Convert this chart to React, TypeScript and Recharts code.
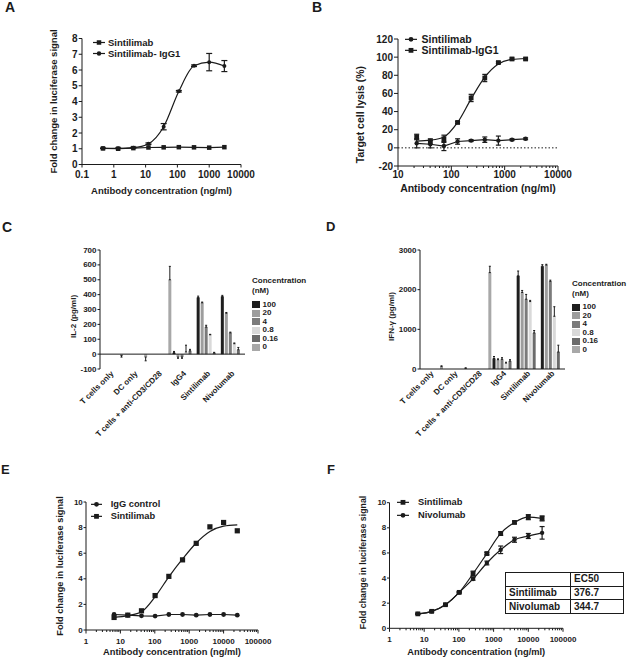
import React from 'react';
import {
  ComposedChart,
  BarChart,
  Bar,
  Line,
  XAxis,
  YAxis,
  ErrorBar,
  Legend,
  ReferenceLine,
  Label,
} from 'recharts';

const FONT = '"Liberation Sans", Arial, Helvetica, sans-serif';
const INK = '#1b1b1b';

// A: reporter assay, Sintilimab vs Sintilimab-IgG1
const aConc = [0.457, 1.37, 4.12, 12.3, 37, 111, 333, 1000, 3000];
const aSintilimab = [1.02, 1.0, 1.04, 1.08, 1.09, 1.1, 1.09, 1.07, 1.1];
const aIgG1 = [1.03, 1.03, 1.07, 1.32, 2.4, 4.65, 6.27, 6.5, 6.25];
const aIgG1Err = [0.02, 0.02, 0.03, 0.05, 0.2, 0.05, 0.05, 0.55, 0.35];
const aXTicks = [0.1, 1, 10, 100, 1000, 10000];
const aYTicks = [0, 1, 2, 3, 4, 5, 6, 7, 8];

// B: target cell lysis
const bConc = [22.4, 40.4, 72.6, 131, 235, 424, 762, 1372, 2470];
const bSintilimab = [5, 4, 2, 7, 8, 9, 8, 9, 10];
const bSintilimabErr = [5, 4, 5, 3, 1, 3, 5, 1, 1];
const bIgG1 = [12, 7, 10, 28, 55, 77, 94, 98, 98];
const bIgG1Err = [3, 3, 4, 1, 4, 4, 1, 1, 1];
const bIgG1Curve = [7.5, 8.5, 12, 28, 54, 78, 92.5, 97.5, 98.5];
const bXMajor = [10, 100, 1000, 10000];
const bYTicks = [-20, 0, 20, 40, 60, 80, 100, 120];

// C / D: cytokines
const categories = ['T cells only', 'DC only', 'T cells + anti-CD3/CD28', 'IgG4', 'Sintilimab', 'Nivolumab'];
const concLabels = ['100', '20', '4', '0.8', '0.16', '0'];
const concColors = ['#1e1e1e', '#9d9d9d', '#7b7b7b', '#d9d9d9', '#6b6b6b', '#a8a8a8'];

const il2At100 = [null, null, null, 10, 380, 387];
const il2At20 = [null, null, null, -20, 345, 275];
const il2At4 = [null, null, null, -20, 182, 143];
const il2At08 = [null, null, null, 15, 130, 70];
const il2At016 = [null, null, null, 22, 8, 30];
const il2At0 = [-10, -20, 500, null, null, null];
const il2Err100 = [null, null, null, 8, 10, 8];
const il2Err20 = [null, null, null, 8, 5, 5];
const il2Err4 = [null, null, null, 8, 12, 5];
const il2Err08 = [null, null, null, 45, 3, 5];
const il2Err016 = [null, null, null, 10, 4, 15];
const il2Err0 = [10, 25, 90, null, null, null];
const il2Ticks = [-100, 0, 100, 200, 300, 400, 500, 600, 700];

const ifnAt100 = [null, null, null, 265, 2350, 2590];
const ifnAt20 = [null, null, null, 235, 1930, 2620];
const ifnAt4 = [null, null, null, 245, 1760, 2210];
const ifnAt08 = [null, null, null, 150, 1700, 1330];
const ifnAt016 = [null, null, null, 200, 910, 430];
const ifnAt0 = [60, 15, 2430, null, null, null];
const ifnErr100 = [null, null, null, 50, 120, 40];
const ifnErr20 = [null, null, null, 20, 50, 20];
const ifnErr4 = [null, null, null, 40, 120, 30];
const ifnErr08 = [null, null, null, 20, 30, 240];
const ifnErr016 = [null, null, null, 35, 60, 170];
const ifnErr0 = [20, 15, 160, null, null, null];
const ifnTicks = [0, 1000, 2000, 3000];

// E: IgG control vs Sintilimab
const efConc = [6.55, 16.4, 41, 102, 256, 640, 1600, 4000, 10000, 25000];
const eIgG = [1.21, 1.16, 1.11, 1.09, 1.21, 1.21, 1.16, 1.21, 1.21, 1.16];
const eSintilimab = [0.98, 1.16, 1.5, 2.69, 4.19, 5.48, 6.77, 8.06, 8.4, 7.75];
const eSintilimabCurve = [0.98, 1.12, 1.42, 2.6, 4.15, 5.55, 6.8, 7.7, 8.12, 8.22];

// F: Sintilimab vs Nivolumab
const fSintilimab = [1.15, 1.35, 1.88, 2.86, 4.35, 5.95, 7.55, 8.43, 8.85, 8.75];
const fSintilimabErr = [0.05, 0.05, 0.05, 0.05, 0.2, 0.1, 0.15, 0.1, 0.2, 0.2];
const fNivolumab = [1.15, 1.35, 1.88, 2.86, 3.93, 5.2, 6.25, 7.05, 7.35, 7.6];
const fNivolumabErr = [0.05, 0.05, 0.05, 0.05, 0.1, 0.15, 0.3, 0.2, 0.2, 0.5];
const efXMajor = [1, 10, 100, 1000, 10000, 100000];
const efYTicks = [0, 2, 4, 6, 8, 10];
const ec50Names = ['Sintilimab', 'Nivolumab'];
const ec50Values = ['376.7', '344.7'];

const toPoints = (xs: number[], ys: number[], es?: number[]) =>
  xs.map((x, i) => ({ x, y: ys[i], e: es ? es[i] : 0 }));

const withMinor = (majors: number[]) => {
  const out: number[] = [];
  majors.forEach((m, i) => {
    out.push(m);
    if (i < majors.length - 1) for (let k = 2; k <= 9; k++) out.push(+(k * m).toPrecision(6));
  });
  return out;
};

const isDecade = (v: number) => Math.abs(Math.log10(v) - Math.round(Math.log10(v))) < 1e-6;

function XLogTick(props: any) {
  const { x, y, payload, fs, len, minorLen, labelY } = props;
  const v = payload.value;
  const major = isDecade(v);
  if (!major && !minorLen) return null;
  return (
    <g>
      <line x1={x} y1={y} x2={x} y2={y + (major ? len : minorLen)} stroke={INK} />
      {major && (
        <text x={x} y={y + labelY} textAnchor="middle" dominantBaseline="central" fontSize={fs} fontWeight="bold" fontFamily={FONT} fill={INK}>
          {String(v)}
        </text>
      )}
    </g>
  );
}

function YTick(props: any) {
  const { x, y, payload, fs, len, gap } = props;
  return (
    <g>
      <line x1={x - len} y1={y} x2={x} y2={y} stroke={INK} />
      <text x={x - gap} y={y} textAnchor="end" dominantBaseline="central" fontSize={fs} fontWeight="bold" fontFamily={FONT} fill={INK}>
        {payload.value}
      </text>
    </g>
  );
}

function CatTick(props: any) {
  const { x, y, payload } = props;
  const ax = x + 2;
  const ay = y + 5;
  return (
    <text x={ax} y={ay} transform={`rotate(-45 ${ax} ${ay})`} textAnchor="end" fontSize={8} fontWeight="bold" fontFamily={FONT} fill={INK}>
      {payload.value}
    </text>
  );
}

const xTitle = (text: string, dy: number, fs: number) => (p: any) => {
  const vb = p.viewBox;
  return (
    <text x={vb.x + vb.width / 2} y={vb.y + dy} textAnchor="middle" dominantBaseline="central" fontSize={fs} fontWeight="bold" fontFamily={FONT} fill={INK}>
      {text}
    </text>
  );
};

const yTitle = (text: string, dx: number, dy: number, fs: number) => (p: any) => {
  const vb = p.viewBox;
  const cx = vb.x + dx;
  const cy = vb.y + vb.height / 2 + dy;
  return (
    <text x={cx} y={cy} transform={`rotate(-90 ${cx} ${cy})`} textAnchor="middle" dominantBaseline="central" fontSize={fs} fontWeight="bold" fontFamily={FONT} fill={INK}>
      {text}
    </text>
  );
};

const squareDot = (s: number) => (p: any) =>
  p.cx == null || p.cy == null ? <g key={p.key} /> : (
    <rect key={p.key} x={p.cx - s / 2} y={p.cy - s / 2} width={s} height={s} fill={INK} />
  );

const circleDot = (r: number) => (p: any) =>
  p.cx == null || p.cy == null ? <g key={p.key} /> : <circle key={p.key} cx={p.cx} cy={p.cy} r={r} fill={INK} />;

type LegendItem = { name: string; shape: 'square' | 'circle' };

function SeriesLegend({ items, fs, row, lineW, gap, size }: { items: LegendItem[]; fs: number; row: number; lineW: number; gap: number; size: number }) {
  return (
    <div style={{ fontFamily: FONT, fontWeight: 'bold', fontSize: fs, color: INK }}>
      {items.map((it) => (
        <div key={it.name} style={{ display: 'flex', alignItems: 'center', height: row, whiteSpace: 'nowrap' }}>
          <svg width={lineW} height={row} style={{ display: 'block' }}>
            <line x1={0} x2={lineW} y1={row / 2} y2={row / 2} stroke={INK} strokeWidth={1.2} />
            {it.shape === 'square' ? (
              <rect x={lineW / 2 - size / 2} y={row / 2 - size / 2} width={size} height={size} fill={INK} />
            ) : (
              <circle cx={lineW / 2} cy={row / 2} r={size / 2} fill={INK} />
            )}
          </svg>
          <span style={{ marginLeft: gap, lineHeight: `${row}px` }}>{it.name}</span>
        </div>
      ))}
    </div>
  );
}

function ConcLegend({ itemsGap }: { itemsGap: number }) {
  return (
    <div style={{ fontFamily: FONT, fontWeight: 'bold', fontSize: 8, color: INK, lineHeight: '10px', whiteSpace: 'nowrap' }}>
      <div>Concentration</div>
      <div>(nM)</div>
      <div style={{ marginTop: itemsGap }}>
        {concLabels.map((c, i) => (
          <div key={c} style={{ display: 'flex', alignItems: 'center', height: 8.5 }}>
            <span style={{ display: 'inline-block', width: 7.5, height: 7, background: concColors[i] }} />
            <span style={{ marginLeft: 3, lineHeight: '8.5px' }}>{c}</span>
          </div>
        ))}
      </div>
    </div>
  );
}

const buildBars = (series: (number | null)[][], errs: (number | null)[][]) =>
  categories.map((name, i) => {
    const row: any = { name };
    series.forEach((s, k) => {
      const v = s[i];
      const e = errs[k][i];
      row[`c${k}`] = v;
      if (v != null && e != null) row[`e${k}`] = v < 0 ? [e, 0] : [0, e];
    });
    return row;
  });

const il2Data = buildBars(
  [il2At100, il2At20, il2At4, il2At08, il2At016, il2At0],
  [il2Err100, il2Err20, il2Err4, il2Err08, il2Err016, il2Err0],
);
const ifnData = buildBars(
  [ifnAt100, ifnAt20, ifnAt4, ifnAt08, ifnAt016, ifnAt0],
  [ifnErr100, ifnErr20, ifnErr4, ifnErr08, ifnErr016, ifnErr0],
);

const letter = (t: string, left: number, top: number, fs: number) => (
  <div style={{ position: 'absolute', left, top, fontFamily: FONT, fontWeight: 'bold', fontSize: fs, lineHeight: `${fs}px`, color: INK }}>{t}</div>
);

const Box = ({ left, top, children }: { left: number; top: number; children: React.ReactNode }) => (
  <div style={{ position: 'absolute', left, top }}>{children}</div>
);

function PanelA() {
  return (
    <ComposedChart width={310} height={197} margin={{ top: 20.5, right: 69, bottom: 0, left: 0 }}>
      <XAxis type="number" dataKey="x" scale="log" domain={[0.1, 10000]} ticks={aXTicks} interval={0} allowDataOverflow
        height={50.5} tickSize={0} tickMargin={0} axisLine={{ stroke: INK }}
        tick={<XLogTick fs={10} len={3} minorLen={0} labelY={9.5} />}
        label={<Label content={xTitle('Antibody concentration (ng/ml)', 25.5, 9.5)} />} />
      <YAxis type="number" domain={[0, 8]} ticks={aYTicks} interval={0} allowDataOverflow width={82} tickSize={0} tickMargin={0}
        axisLine={{ stroke: INK }} tick={<YTick fs={10} len={3.3} gap={4.5} />}
        label={<Label content={yTitle('Fold change in luciferase signal', 53, 0, 9.5)} />} />
      <Line data={toPoints(aConc, aSintilimab)} dataKey="y" name="Sintilimab" type="linear" stroke={INK} strokeWidth={1.2}
        dot={squareDot(4.5)} activeDot={false} isAnimationActive={false} />
      <Line data={toPoints(aConc, aIgG1, aIgG1Err)} dataKey="y" name="Sintilimab- IgG1" type="monotone" stroke={INK} strokeWidth={1.2}
        dot={circleDot(2)} activeDot={false} isAnimationActive={false}>
        <ErrorBar dataKey="e" direction="y" width={3} stroke={INK} strokeWidth={1.2} />
      </Line>
      <Legend layout="vertical" align="center" verticalAlign="middle" wrapperStyle={{ left: 93, top: 19 }}
        content={() => <SeriesLegend items={[{ name: 'Sintilimab', shape: 'square' }, { name: 'Sintilimab- IgG1', shape: 'circle' }]} fs={9.5} row={11} lineW={12} gap={3} size={4.5} />} />
    </ComposedChart>
  );
}

function PanelB() {
  return (
    <ComposedChart width={317} height={197} margin={{ top: 21, right: 69, bottom: 0, left: 0 }}>
      <XAxis type="number" dataKey="x" scale="log" domain={[10, 10000]} ticks={withMinor(bXMajor)} interval={0} allowDataOverflow
        height={49} tickSize={0} tickMargin={0} axisLine={{ stroke: INK }}
        tick={<XLogTick fs={10} len={4} minorLen={2} labelY={8.5} />}
        label={<Label content={xTitle('Antibody concentration (ng/ml)', 21.7, 10.5)} />} />
      <YAxis type="number" domain={[-20, 120]} ticks={bYTicks} interval={0} allowDataOverflow width={88} tickSize={0} tickMargin={0}
        axisLine={{ stroke: INK }} tick={<YTick fs={10} len={4} gap={5} />}
        label={<Label content={yTitle('Target cell lysis (%)', 50, 12, 10.5)} />} />
      <ReferenceLine y={0} stroke={INK} strokeDasharray="1.5 2" />
      <Line data={toPoints(bConc, bSintilimab, bSintilimabErr)} dataKey="y" name="Sintilimab" type="linear" stroke={INK} strokeWidth={1.2}
        dot={circleDot(2.2)} activeDot={false} isAnimationActive={false}>
        <ErrorBar dataKey="e" direction="y" width={2.5} stroke={INK} strokeWidth={1.2} />
      </Line>
      <Line data={toPoints(bConc, bIgG1Curve)} dataKey="y" name="curve" legendType="none" type="monotone" stroke={INK} strokeWidth={1.2}
        dot={false} activeDot={false} isAnimationActive={false} />
      <Line data={toPoints(bConc, bIgG1, bIgG1Err)} dataKey="y" name="Sintilimab-IgG1" type="monotone" stroke="none"
        dot={squareDot(4.8)} activeDot={false} isAnimationActive={false}>
        <ErrorBar dataKey="e" direction="y" width={2.5} stroke={INK} strokeWidth={1.2} />
      </Line>
      <Legend layout="vertical" align="center" verticalAlign="middle" wrapperStyle={{ left: 95, top: 16 }}
        content={() => <SeriesLegend items={[{ name: 'Sintilimab', shape: 'circle' }, { name: 'Sintilimab-IgG1', shape: 'square' }]} fs={10.5} row={10.7} lineW={12} gap={4.5} size={4.8} />} />
    </ComposedChart>
  );
}

function CytokineChart({ data, domain, ticks, title, titleDx, yw, zeroLine, legendLeft, legendTop, itemsGap }: any) {
  return (
    <BarChart width={310} height={215} data={data} margin={{ top: 20, right: 310 - yw - 145, bottom: 0, left: 0 }}
      barCategoryGap={0} barGap={1}>
      <XAxis dataKey="name" type="category" interval={0} height={76} tickSize={0} tickMargin={0}
        axisLine={zeroLine ? false : { stroke: INK }} tick={<CatTick />} />
      <YAxis type="number" domain={domain} ticks={ticks} interval={0} allowDataOverflow width={yw} tickSize={0} tickMargin={0}
        axisLine={{ stroke: INK }} tick={<YTick fs={8} len={2.5} gap={3.5} />}
        label={<Label content={yTitle(title, titleDx, 7, 8)} />} />
      {zeroLine && <ReferenceLine y={0} stroke={INK} />}
      {concLabels.map((c, k) => (
        <Bar key={c} dataKey={`c${k}`} name={c} fill={concColors[k]} isAnimationActive={false}>
          <ErrorBar dataKey={`e${k}`} direction="y" width={1} stroke={INK} strokeWidth={1} />
        </Bar>
      ))}
      <Legend layout="vertical" align="center" verticalAlign="middle" wrapperStyle={{ left: legendLeft, top: legendTop }}
        content={() => <ConcLegend itemsGap={itemsGap} />} />
    </BarChart>
  );
}

function PanelE() {
  return (
    <ComposedChart width={310} height={178} margin={{ top: 22, right: 52, bottom: 0, left: 0 }}>
      <XAxis type="number" dataKey="x" scale="log" domain={[1, 100000]} ticks={withMinor(efXMajor)} interval={0} allowDataOverflow
        height={28} tickSize={0} tickMargin={0} axisLine={{ stroke: INK }}
        tick={<XLogTick fs={8} len={3.5} minorLen={2} labelY={11.5} />}
        label={<Label content={xTitle('Antibody concentration (ng/ml)', 21.7, 9.3)} />} />
      <YAxis type="number" domain={[0, 10]} ticks={efYTicks} interval={0} allowDataOverflow width={86} tickSize={0} tickMargin={0}
        axisLine={{ stroke: INK }} tick={<YTick fs={8} len={2.5} gap={3.2} />}
        label={<Label content={yTitle('Fold change in luciferase signal', 60, 0, 9.2)} />} />
      <Line data={toPoints(efConc, eIgG)} dataKey="y" name="IgG control" type="linear" stroke={INK} strokeWidth={1.2}
        dot={circleDot(2.4)} activeDot={false} isAnimationActive={false} />
      <Line data={toPoints(efConc, eSintilimabCurve)} dataKey="y" name="curve" legendType="none" type="monotone" stroke={INK} strokeWidth={1.2}
        dot={false} activeDot={false} isAnimationActive={false} />
      <Line data={toPoints(efConc, eSintilimab)} dataKey="y" name="Sintilimab" type="linear" stroke="none"
        dot={squareDot(5.2)} activeDot={false} isAnimationActive={false} />
      <Legend layout="vertical" align="center" verticalAlign="middle" wrapperStyle={{ left: 90.7, top: 17.6 }}
        content={() => <SeriesLegend items={[{ name: 'IgG control', shape: 'circle' }, { name: 'Sintilimab', shape: 'square' }]} fs={9.3} row={12.7} lineW={11} gap={9} size={4.8} />} />
    </ComposedChart>
  );
}

function PanelF() {
  return (
    <ComposedChart width={317} height={178} margin={{ top: 22.7, right: 64, bottom: 0, left: 0 }}>
      <XAxis type="number" dataKey="x" scale="log" domain={[1, 100000]} ticks={withMinor(efXMajor)} interval={0} allowDataOverflow
        height={29.7} tickSize={0} tickMargin={0} axisLine={{ stroke: INK }}
        tick={<XLogTick fs={8} len={3.5} minorLen={2} labelY={11} />}
        label={<Label content={xTitle('Antibody concentration (ng/ml)', 24, 9.3)} />} />
      <YAxis type="number" domain={[0, 10]} ticks={efYTicks} interval={0} allowDataOverflow width={79.5} tickSize={0} tickMargin={0}
        axisLine={{ stroke: INK }} tick={<YTick fs={8} len={2.5} gap={3.2} />}
        label={<Label content={yTitle('Fold change in luciferase signal', 53.3, -3, 8.8)} />} />
      <Line data={toPoints(efConc, fSintilimab, fSintilimabErr)} dataKey="y" name="Sintilimab" type="monotone" stroke={INK} strokeWidth={1.2}
        dot={squareDot(4.8)} activeDot={false} isAnimationActive={false}>
        <ErrorBar dataKey="e" direction="y" width={2.5} stroke={INK} strokeWidth={1.2} />
      </Line>
      <Line data={toPoints(efConc, fNivolumab, fNivolumabErr)} dataKey="y" name="Nivolumab" type="monotone" stroke={INK} strokeWidth={1.2}
        dot={circleDot(2.2)} activeDot={false} isAnimationActive={false}>
        <ErrorBar dataKey="e" direction="y" width={2.5} stroke={INK} strokeWidth={1.2} />
      </Line>
      <Legend layout="vertical" align="center" verticalAlign="middle" wrapperStyle={{ left: 87.3, top: 16 }}
        content={() => <SeriesLegend items={[{ name: 'Sintilimab', shape: 'square' }, { name: 'Nivolumab', shape: 'circle' }]} fs={9.3} row={12.7} lineW={12} gap={8.7} size={4.8} />} />
    </ComposedChart>
  );
}

function Ec50Table() {
  const cell: React.CSSProperties = { border: `1px solid ${INK}`, padding: '0 3px', height: 12.7, lineHeight: '12px' };
  return (
    <table style={{ position: 'absolute', left: 505, top: 572, borderCollapse: 'collapse', fontFamily: FONT, fontWeight: 'bold', fontSize: 10, color: INK, background: '#fff' }}>
      <tbody>
        <tr>
          <td style={{ ...cell, width: 58 }} />
          <td style={{ ...cell, width: 46 }}>EC50</td>
        </tr>
        {ec50Names.map((n, i) => (
          <tr key={n}>
            <td style={cell}>{n}</td>
            <td style={cell}>{ec50Values[i]}</td>
          </tr>
        ))}
      </tbody>
    </table>
  );
}

export default function App() {
  return (
    <div style={{ position: 'absolute', left: 0, top: 0, width: 627, height: 658, background: '#fff', overflow: 'hidden' }}>
      {letter('A', 5, 0, 14)}
      {letter('B', 312, 0, 14)}
      {letter('C', 2, 220, 14)}
      {letter('D', 326, 220, 13)}
      {letter('E', 1, 463, 13)}
      {letter('F', 327, 463, 13)}
      <Box left={0} top={18}><PanelA /></Box>
      <Box left={310} top={18}><PanelB /></Box>
      <Box left={0} top={230}>
        <CytokineChart data={il2Data} domain={[-100, 700]} ticks={il2Ticks} title="IL-2 (pg/ml)" titleDx={73} yw={100}
          zeroLine legendLeft={252} legendTop={45.5} itemsGap={5} />
      </Box>
      <Box left={310} top={230}>
        <CytokineChart data={ifnData} domain={[0, 3000]} ticks={ifnTicks} title="IFN-γ (pg/ml)" titleDx={81.7} yw={110}
          zeroLine={false} legendLeft={262} legendTop={49} itemsGap={4} />
      </Box>
      <Box left={0} top={480}><PanelE /></Box>
      <Box left={310} top={480}><PanelF /></Box>
      <Ec50Table />
    </div>
  );
}
